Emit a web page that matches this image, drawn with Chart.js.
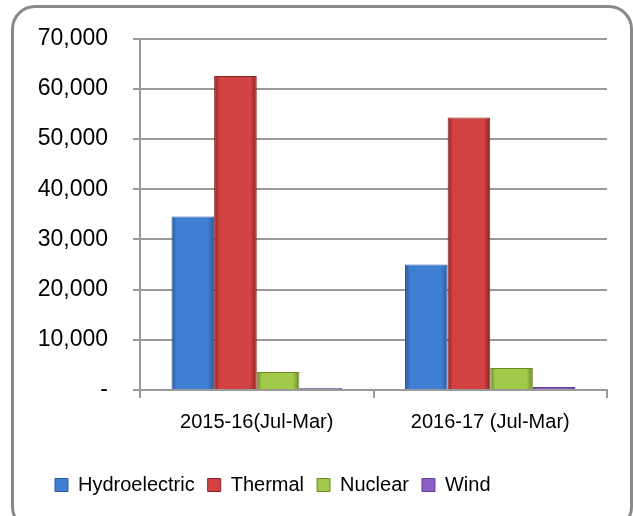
<!DOCTYPE html>
<html lang="en">
<head>
   <meta charset="UTF-8">
   <title>Electricity Generation</title>
   <script src="https://cdn.jsdelivr.net/npm/chart.js"></script>
   <style>
      body {
         margin: 0;
         padding: 0;
         background: #fff;
      }
      .wrap {
         position: relative;
         width: 633px;
         height: 516px;
         overflow: hidden;
      }
      .frame {
         position: absolute;
         left: 11px;
         top: 5px;
         width: 616px;
         height: 520px;
         border: 3px solid #8a8a8a;
         border-radius: 24px;
         pointer-events: none;
      }
      canvas {
         position: absolute;
         left: 0;
         top: 0;
      }
   </style>
</head>
<body>
   <div class="wrap">
      <canvas id="genChart" width="633" height="516"></canvas>
      <div class="frame"></div>
   </div>

   <script>
      // values
      const periods = ["2015-16(Jul-Mar)", "2016-17 (Jul-Mar)"];
      const hydroelectric = [34600, 25000];
      const thermal = [62600, 54300];
      const nuclear = [3600, 4400];
      const wind = [400, 600];
      const yTicks = [0, 10000, 20000, 30000, 40000, 50000, 60000, 70000];

      const font = "'Liberation Sans', Arial, sans-serif";
      const grey = "#9a9a9a";
      const fills = ["#3f7fd4", "#d24242", "#a2c94a", "#8a5fc8"];
      const edges = ["#2a5a9c", "#8a2222", "#6a8a28", "#5e3f92"];

      // soft horizontal shading on each bar, like the office 3D bevel
      function shade(i) {
         return ctx => {
            const el = ctx.element;
            if (!el || !isFinite(el.x) || !isFinite(el.width)) return fills[i];
            const g = ctx.chart.ctx.createLinearGradient(el.x - el.width / 2, 0, el.x + el.width / 2, 0);
            g.addColorStop(0, edges[i]);
            g.addColorStop(0.12, fills[i]);
            g.addColorStop(0.85, fills[i]);
            g.addColorStop(1, edges[i]);
            return g;
         };
      }

      // the legend in the original sits left of centre
      const legendShift = {
         id: "legendShift",
         afterLayout: c => {
            c.legend.left += 42;
            c.legend.right += 42;
         }
      };

      const chart = new Chart(document.getElementById("genChart"), {
         type: "bar",
         data: {
            labels: periods,
            datasets: [
               { label: "Hydroelectric", data: hydroelectric },
               { label: "Thermal", data: thermal },
               { label: "Nuclear", data: nuclear },
               { label: "Wind", data: wind }
            ].map((d, i) => Object.assign(d, {
               backgroundColor: shade(i),
               borderColor: edges[i],
               borderWidth: 1,
               categoryPercentage: 0.73,
               barPercentage: 1.0
            }))
         },
         options: {
            responsive: false,
            animation: false,
            layout: { padding: { top: 37, right: 26, left: 0, bottom: 11 } },
            plugins: {
               tooltip: { enabled: false },
               legend: {
                  position: "bottom",
                  align: "start",
                  labels: {
                     boxWidth: 13,
                     boxHeight: 13,
                     padding: 13,
                     color: "#000",
                     font: { family: font, size: 20 },
                     generateLabels: c => Chart.defaults.plugins.legend.labels.generateLabels(c)
                        .map((l, i) => Object.assign(l, { fillStyle: fills[i], strokeStyle: edges[i], lineWidth: 1 }))
                  }
               }
            },
            scales: {
               x: {
                  afterFit: scale => { scale.height += 16; },
                  grid: { drawOnChartArea: false, drawTicks: true, tickLength: 8, color: grey, lineWidth: 2 },
                  border: { color: grey, width: 2 },
                  ticks: { color: "#000", padding: 12, font: { family: font, size: 20 } }
               },
               y: {
                  min: 0,
                  max: 70000,
                  afterFit: scale => { scale.width = 140; },
                  afterBuildTicks: scale => { scale.ticks = yTicks.map(v => ({ value: v })); },
                  grid: { color: grey, lineWidth: 2, tickLength: 7 },
                  border: { color: grey, width: 2 },
                  ticks: {
                     color: "#000",
                     padding: 25,
                     font: { family: font, size: 23 },
                     callback: v => v === 0 ? "-" : v.toLocaleString("en-US")
                  }
               }
            }
         },
         plugins: [legendShift]
      });
      // second pass so the shading can use the bar positions
      chart.update();
   </script>
</body>
</html>
